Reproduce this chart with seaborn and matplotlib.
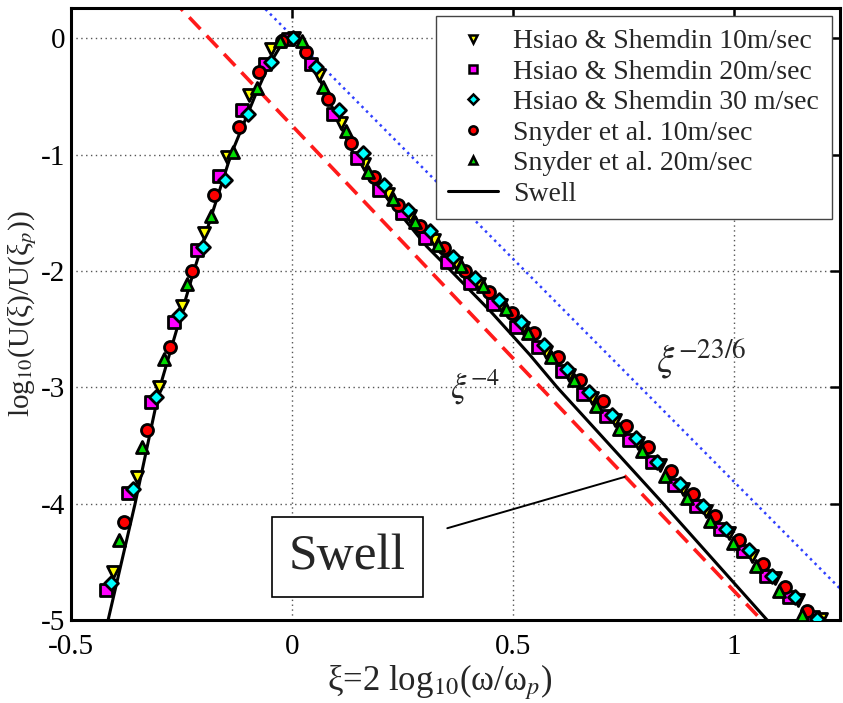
import numpy as np
import pandas as pd
import matplotlib
matplotlib.use("Agg")
import matplotlib.pyplot as plt
import seaborn as sns

# ---------------- data ----------------
hs10_x = [-0.404, -0.351, -0.302, -0.248, -0.199, -0.146, -0.097, -0.047, 0.005, 0.062, 0.112, 0.163,
          0.218, 0.267, 0.321, 0.372, 0.424, 0.474, 0.523, 0.575, 0.627, 0.678, 0.730, 0.782, 0.833,
          0.885, 0.936, 0.988, 1.040, 1.092, 1.145, 1.198]
hs10_y = [-4.59, -3.77, -3.00, -2.30, -1.67, -1.02, -0.49, -0.09, 0.00, -0.32, -0.73, -1.08,
          -1.34, -1.53, -1.73, -1.93, -2.11, -2.29, -2.49, -2.70, -2.89, -3.09, -3.28, -3.48, -3.67,
          -3.87, -4.06, -4.25, -4.45, -4.64, -4.83, -4.99]

hs20_x = [-0.421, -0.370, -0.320, -0.266, -0.216, -0.164, -0.112, -0.061, -0.010, 0.043, 0.093, 0.146,
          0.197, 0.250, 0.301, 0.351, 0.403, 0.455, 0.506, 0.557, 0.610, 0.659, 0.710, 0.763, 0.814,
          0.864, 0.915, 0.968, 1.020, 1.072, 1.125, 1.178]
hs20_y = [-4.74, -3.91, -3.13, -2.44, -1.82, -1.18, -0.62, -0.22, -0.01, -0.22, -0.65, -1.03,
          -1.30, -1.50, -1.72, -1.92, -2.10, -2.28, -2.48, -2.65, -2.86, -3.06, -3.25, -3.45, -3.64,
          -3.84, -4.02, -4.22, -4.41, -4.62, -4.80, -4.97]

hs30_x = [-0.410, -0.359, -0.308, -0.255, -0.202, -0.152, -0.099, -0.048, 0.002, 0.054, 0.107, 0.160,
          0.208, 0.262, 0.312, 0.365, 0.414, 0.469, 0.519, 0.570, 0.623, 0.673, 0.723, 0.778, 0.826,
          0.879, 0.929, 0.982, 1.035, 1.087, 1.138, 1.188]
hs30_y = [-4.68, -3.87, -3.08, -2.38, -1.79, -1.22, -0.65, -0.20, 0.00, -0.25, -0.62, -0.99,
          -1.26, -1.48, -1.66, -1.88, -2.06, -2.25, -2.44, -2.64, -2.84, -3.04, -3.24, -3.44, -3.64,
          -3.83, -4.02, -4.22, -4.40, -4.62, -4.80, -4.99]

sn10_x = [-0.379, -0.329, -0.276, -0.226, -0.176, -0.121, -0.074, -0.022, 0.032, 0.082, 0.133, 0.186,
          0.239, 0.290, 0.344, 0.391, 0.446, 0.497, 0.548, 0.602, 0.652, 0.703, 0.756, 0.806, 0.857,
          0.908, 0.958, 1.012, 1.065, 1.115, 1.166]
sn10_y = [-4.16, -3.37, -2.65, -2.00, -1.35, -0.76, -0.29, -0.02, -0.12, -0.52, -0.90, -1.19,
          -1.43, -1.61, -1.80, -2.00, -2.18, -2.36, -2.53, -2.74, -2.94, -3.12, -3.33, -3.51, -3.72,
          -3.92, -4.11, -4.31, -4.52, -4.72, -4.92]

sn20_x = [-0.391, -0.340, -0.290, -0.238, -0.184, -0.133, -0.080, -0.027, 0.022, 0.071, 0.122, 0.173,
          0.228, 0.278, 0.330, 0.382, 0.433, 0.484, 0.534, 0.587, 0.638, 0.689, 0.740, 0.793, 0.844,
          0.893, 0.946, 0.998, 1.051, 1.102, 1.155]
sn20_y = [-4.31, -3.51, -2.76, -2.11, -1.53, -0.98, -0.43, -0.02, -0.02, -0.42, -0.80, -1.15,
          -1.38, -1.58, -1.78, -1.96, -2.13, -2.33, -2.53, -2.74, -2.94, -3.16, -3.36, -3.55, -3.76,
          -3.95, -4.15, -4.34, -4.54, -4.75, -4.96]

swell_x = [-0.416, -0.355, -0.299, -0.222, -0.138, -0.084, -0.055, -0.020, 0.000, 0.020, 0.045, 0.080,
           0.140, 0.210, 0.305, 0.360, 0.450, 0.538, 0.600, 0.840, 1.075]
swell_y = [-5.00, -4.00, -3.00, -2.00, -1.00, -0.50, -0.25, -0.03, 0.00, -0.04, -0.20, -0.50,
           -1.00, -1.35, -1.79, -2.00, -2.35, -2.72, -3.00, -4.00, -5.00]

ref4_x = [-0.30, 1.10]          # xi^-4 reference line (endpoints)
ref4_y = [0.45, -5.15]
ref236_x = [-0.06, 1.24]        # xi^-23/6 reference line (endpoints)
ref236_y = [0.25, -4.73]

x_ticks = [-0.5, 0, 0.5, 1]
x_tick_labels = ["-0.5", "0", "0.5", "1"]
y_ticks = [-5, -4, -3, -2, -1, 0]
y_tick_labels = ["-5", "-4", "-3", "-2", "-1", "0"]

series = [
    ("Hsiao & Shemdin 10m/sec", hs10_x, hs10_y, "v", "#ffff00"),
    ("Hsiao & Shemdin 20m/sec", hs20_x, hs20_y, "s", "#ff00ff"),
    ("Hsiao & Shemdin 30 m/sec", hs30_x, hs30_y, "D", "#00ffff"),
    ("Snyder et al. 10m/sec", sn10_x, sn10_y, "o", "#ff0000"),
    ("Snyder et al. 20m/sec", sn20_x, sn20_y, "^", "#00dd00"),
]

# ---------------- style ----------------
sns.set_style("white")
plt.rcParams["font.family"] = ["Liberation Serif", "DejaVu Serif"]
plt.rcParams["mathtext.fontset"] = "stix"

fig = plt.figure(figsize=(8.43, 7.03), dpi=100)
ax = fig.add_axes([71 / 843, 1 - 620 / 703, (840 - 71) / 843, (620 - 8) / 703])

# reference lines
sns.lineplot(x=ref4_x, y=ref4_y, ax=ax, color="#ff1a1a", lw=2.6, linestyle=(0, (4.5, 2.5)),
             sort=False, estimator=None, legend=False, zorder=2)
sns.lineplot(x=ref236_x, y=ref236_y, ax=ax, color="#3040ff", lw=1.8, linestyle=(0, (1, 1.6)),
             sort=False, estimator=None, legend=False, zorder=2)

# swell line
sns.lineplot(x=swell_x, y=swell_y, ax=ax, color="black", lw=2.2, sort=False, estimator=None,
             legend=False, zorder=3)

handles = []
for name, xs, ys, mk, col in series:
    df = pd.DataFrame({"x": xs, "y": ys})
    sns.scatterplot(data=df, x="x", y="y", ax=ax, marker=mk, s=75 if mk != "D" else 50,
                    color=col, edgecolor="black", linewidth=2.0, zorder=4, legend=False)
    handles.append(plt.Line2D([], [], marker=mk, linestyle="none", markersize=6 if mk != "D" else 5,
                              markerfacecolor=col, markeredgecolor="black", markeredgewidth=1.8,
                              label=name))
handles.append(plt.Line2D([], [], color="black", lw=2.2, label="Swell"))

ax.set_xlim(-0.5, 1.24)
ax.set_ylim(-5, 0.26)
ax.set_xticks(x_ticks)
ax.set_xticklabels(x_tick_labels)
ax.set_yticks(y_ticks)
ax.set_yticklabels(y_tick_labels)
ax.tick_params(axis="both", direction="in", length=7, width=1.8, labelsize=21, top=True, right=True,
               colors="black")
ax.tick_params(axis="x", pad=10)
ax.tick_params(axis="y", pad=4)
ax.grid(True, linestyle=(0, (1, 2.5)), color="#555555", lw=1.0)
for sp in ax.spines.values():
    sp.set_linewidth(2.2)
    sp.set_color("black")

ax.set_xlabel(r"ξ=2 log$_{10}$(ω/ω$_{p}$)", fontsize=25)
ax.xaxis.set_label_coords(0.48, -0.068)
ax.set_ylabel(r"log$_{10}$(U(ξ)/U(ξ$_{p}$))", fontsize=21)
ax.yaxis.set_label_coords(-0.041, 0.5)

leg = ax.legend(handles=handles, loc="upper right", fontsize=20, frameon=True, fancybox=False,
                edgecolor="#444444", framealpha=1, borderpad=0.45, labelspacing=0.18,
                handlelength=1.8, handletextpad=0.55, borderaxespad=0.3)
leg.get_frame().set_linewidth(1.0)

# annotations
ax.text(0.415, -3.0, r"$\xi^{-4}$", fontsize=25, ha="center", va="center", zorder=5)
ax.text(0.925, -2.76, r"$\xi^{-23/6}$", fontsize=28, ha="center", va="center", zorder=5)
ax.annotate("Swell", xy=(0.753, -3.77), xytext=(0.125, -4.46), fontsize=37, ha="center", va="center",
            bbox=dict(boxstyle="square,pad=0.33", fc="white", ec="black", lw=1.2),
            arrowprops=dict(arrowstyle="-", color="black", lw=1.4, shrinkA=18, shrinkB=0), zorder=5)

fig.savefig("out.png", dpi=100)
